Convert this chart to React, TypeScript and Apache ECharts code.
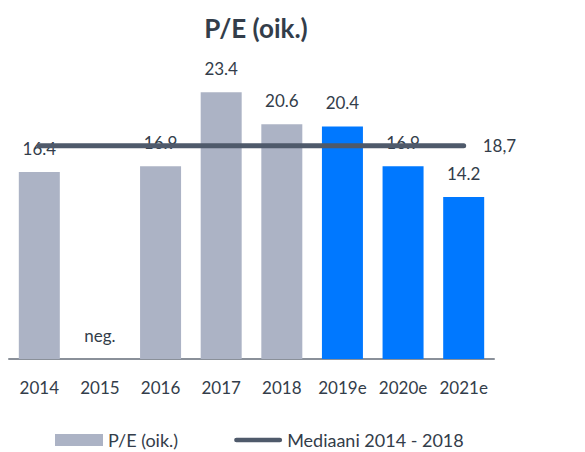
import React, { useEffect, useRef } from "react";
import * as echarts from "echarts";

const categories = ["2014", "2015", "2016", "2017", "2018", "2019e", "2020e", "2021e"];
const peValues: (number | null)[] = [16.4, null, 16.9, 23.4, 20.6, 20.4, 16.9, 14.2];
const medianValue = 18.7;
const medianLabel = "18,7";
const negLabel = "neg.";
const title = "P/E (oik.)";
const barName = "P/E (oik.)";
const lineName = "Mediaani 2014 - 2018";

const GRAY = "#acb3c5";
const BLUE = "#0078ff";
const TEXT = "#333d4a";
const LINE = "#4f5a6b";
const FONT = "Lato, 'Open Sans', sans-serif";

export default function App() {
  const ref = useRef<HTMLDivElement>(null);
  useEffect(() => {
    if (!ref.current) return;
    const chart = echarts.init(ref.current, undefined, { renderer: "svg" });
    const barData = peValues.map((v, i) => {
      const isEst = categories[i].endsWith("e");
      if (v === null) {
        return { value: 0, label: { formatter: negLabel } };
      }
      return { value: v, itemStyle: { color: isEst ? BLUE : GRAY } };
    });
    chart.setOption({
      animation: false,
      textStyle: { fontFamily: FONT },
      title: {
        text: title,
        left: 251,
        top: 10,
        textAlign: "center",
        textStyle: { fontFamily: FONT, fontSize: 26, fontWeight: "bold", color: TEXT },
      },
      legend: {
        top: 431,
        left: 55,
        padding: 0,
        itemGap: 56,
        itemWidth: 48,
        itemHeight: 12,
        textStyle: { fontFamily: FONT, fontSize: 18, color: TEXT, lineHeight: 18 },
        data: [
          { name: barName, icon: "rect", itemStyle: { color: GRAY } },
          {
            name: lineName,
            icon: "path://M2.5,0 H48.5 A2.5,2.5 0 0 1 48.5,5 H2.5 A2.5,2.5 0 0 1 2.5,0 Z",
            itemStyle: { color: LINE },
          },
        ],
      },
      grid: { left: 9, right: 91, top: 74, bottom: 93, containLabel: false },
      xAxis: {
        type: "category",
        data: categories,
        axisLine: { lineStyle: { color: "#8a9099", width: 2 } },
        axisTick: { show: false },
        axisLabel: { fontFamily: FONT, fontSize: 17, color: TEXT, margin: 20, interval: 0 },
      },
      yAxis: {
        type: "value",
        min: 0,
        max: 25,
        show: false,
        splitLine: { show: false },
      },
      series: [
        {
          name: barName,
          type: "bar",
          data: barData,
          barWidth: 41,
          itemStyle: { color: GRAY },
          label: {
            show: true,
            position: "top",
            distance: 15,
            fontFamily: FONT,
            fontSize: 17,
            color: TEXT,
            formatter: (p: any) => String(p.value),
          },
        },
        {
          name: lineName,
          type: "line",
          data: categories.map(() => medianValue),
          symbol: "none",
          lineStyle: { color: LINE, width: 5, cap: "round" },
          itemStyle: { color: LINE },
          z: 5,
          endLabel: {
            show: true,
            formatter: medianLabel,
            distance: 19,
            fontFamily: FONT,
            fontSize: 17,
            color: TEXT,
          },
        },
      ],
    });
    return () => chart.dispose();
  }, []);
  return (
    <div
      ref={ref}
      style={{ position: "absolute", left: 0, top: 0, width: 585, height: 452 }}
    />
  );
}
